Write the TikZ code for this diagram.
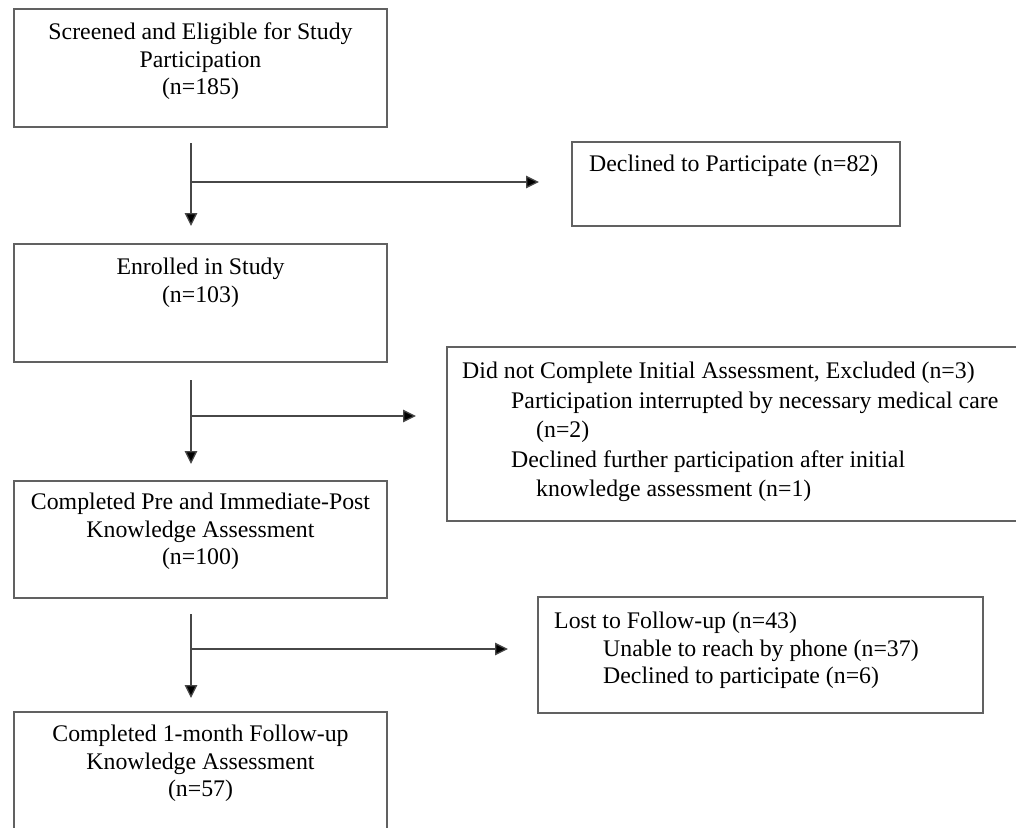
\documentclass[tikz,border=0pt]{standalone}
\usepackage{fontspec}
\setmainfont{Liberation Serif}
\usetikzlibrary{arrows.meta}
\begin{document}
\begin{tikzpicture}[x=1pt,y=-1pt,
  boxline/.style={draw=black!62, line width=1.3pt},
  txt/.style={inner sep=0pt, font=\fontsize{23.8}{27.5}\selectfont, text=black},
  txtl/.style={txt, align=left, anchor=north west},
  txtc/.style={txt, align=center, anchor=north},
  flow/.style={draw=black!72, line width=1.3pt, -{Triangle[length=13pt,width=12.5pt,fill=black]}}
]
\useasboundingbox (0,0) rectangle (1016,827);
\clip (0,0) rectangle (1016,827);
% boxes
\draw[boxline] (14,9) rectangle (387,127);
\draw[boxline] (572,142) rectangle (900,226);
\draw[boxline] (14,244) rectangle (387,362);
\draw[boxline] (447,347) rectangle (1030,521);
\draw[boxline] (14,481) rectangle (387,598);
\draw[boxline] (538,597) rectangle (983,713);
\draw[boxline] (14,712) rectangle (387,850);
% texts
\node[txtc] (t1) at (200.5,23) {Screened and Eligible for Study\\Participation\\(n=185)};
\node[txtl] (t2) at (589,155) {Declined to Participate (n=82)};
\node[txtc] (t3) at (200.5,258) {Enrolled in Study\\(n=103)};
\node[txtl, font=\fontsize{23.8}{29.5}\selectfont] (t4) at (462,362) {Did not Complete Initial Assessment, Excluded (n=3)\\
\hspace*{49pt}Participation interrupted by necessary medical care\\
\hspace*{74pt}(n=2)\\
\hspace*{49pt}Declined further participation after initial\\
\hspace*{74pt}knowledge assessment (n=1)};
\node[txtc] (t5) at (200.5,493) {Completed Pre and Immediate-Post\\Knowledge Assessment\\(n=100)};
\node[txtl] (t6) at (554,612) {Lost to Follow-up (n=43)\\
\hspace*{49pt}Unable to reach by phone (n=37)\\
\hspace*{49pt}Declined to participate (n=6)};
\node[txtc] (t7) at (200.5,725) {Completed 1-month Follow-up\\Knowledge Assessment\\(n=57)};
% connector points
\coordinate (a1s) at (191,143);
\coordinate (a1e) at (191,226);
\coordinate (a1j) at (191,182);
\coordinate (a1r) at (539,182);
\coordinate (a2s) at (191,380);
\coordinate (a2e) at (191,464);
\coordinate (a2j) at (191,416);
\coordinate (a2r) at (416,416);
\coordinate (a3s) at (191,614);
\coordinate (a3e) at (191,698);
\coordinate (a3j) at (191,649);
\coordinate (a3r) at (508,649);
\draw[flow] (a1s) -- (a1e);
\draw[flow] (a1j) -- (a1r);
\draw[flow] (a2s) -- (a2e);
\draw[flow] (a2j) -- (a2r);
\draw[flow] (a3s) -- (a3e);
\draw[flow] (a3j) -- (a3r);
\end{tikzpicture}
\end{document}
